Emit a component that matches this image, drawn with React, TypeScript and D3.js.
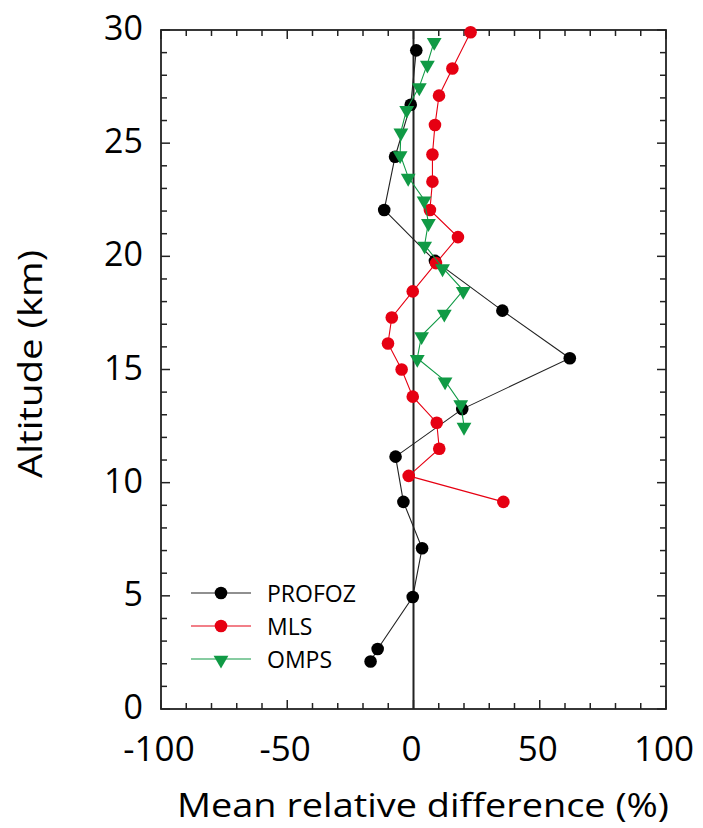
import React, { useRef, useEffect } from 'react';
import * as d3 from 'd3';

// PROFOZ profile
const profozAlt = [29.1, 26.7, 24.4, 22.05, 19.8, 17.6, 15.5, 13.25, 11.15, 9.15, 7.1, 4.95, 2.65, 2.1];
const profozDiff = [1.1, -1.1, -7.3, -11.6, 8.5, 35.2, 61.9, 19.3, -7.1, -4.0, 3.4, -0.3, -14.2, -17.0];

// MLS profile
const mlsAlt = [29.9, 28.3, 27.1, 25.8, 24.5, 23.3, 22.05, 20.85, 19.7, 18.45, 17.3, 16.15, 15.0, 13.8, 12.65, 11.5, 10.3, 9.15];
const mlsDiff = [22.6, 15.4, 10.1, 8.5, 7.5, 7.5, 6.5, 17.6, 8.9, -0.3, -8.6, -10.1, -4.7, -0.3, 9.2, 10.2, -1.9, 35.6];

// OMPS profile
const ompsAlt = [29.5, 28.5, 27.5, 26.5, 25.5, 24.5, 23.5, 22.5, 21.5, 20.5, 19.5, 18.5, 17.5, 16.5, 15.5, 14.5, 13.5, 12.5];
const ompsDiff = [8.2, 5.5, 2.3, -2.7, -5.0, -5.3, -2.1, 4.2, 5.9, 4.4, 11.5, 19.7, 12.2, 3.2, 1.5, 12.5, 18.7, 20.0];

const xTickLabels = [-100, -50, 0, 50, 100];
const yTickLabels = [0, 5, 10, 15, 20, 25, 30];

const FONT = "'Open Sans', sans-serif";

const App = () => {
  const svgRef = useRef<SVGSVGElement>(null);

  useEffect(() => {
    const svg = d3.select(svgRef.current);
    svg.selectAll('*').remove();

    const left = 161, right = 666, top = 30, bottom = 709;
    const x = d3.scaleLinear().domain([-100, 100]).range([left, right]);
    const y = d3.scaleLinear().domain([0, 30]).range([bottom, top]);

    const g = svg.append('g');

    // ticks (inward) on all four sides
    const tk = g.append('g').attr('stroke', '#222').attr('stroke-width', 1.5);
    d3.range(-100, 101, 10).forEach(v => {
      const len = v % 50 === 0 ? 9 : 6;
      tk.append('line').attr('x1', x(v)).attr('x2', x(v)).attr('y1', bottom).attr('y2', bottom - len);
      tk.append('line').attr('x1', x(v)).attr('x2', x(v)).attr('y1', top).attr('y2', top + len);
    });
    d3.range(0, 31, 1).forEach(v => {
      const len = v % 5 === 0 ? 9 : 6;
      tk.append('line').attr('y1', y(v)).attr('y2', y(v)).attr('x1', left).attr('x2', left + len);
      tk.append('line').attr('y1', y(v)).attr('y2', y(v)).attr('x1', right).attr('x2', right - len);
    });

    // frame
    g.append('rect')
      .attr('x', left).attr('y', top)
      .attr('width', right - left).attr('height', bottom - top)
      .attr('fill', 'none').attr('stroke', '#222').attr('stroke-width', 1.8);

    // zero line
    g.append('line')
      .attr('x1', x(0)).attr('x2', x(0)).attr('y1', top).attr('y2', bottom)
      .attr('stroke', '#222').attr('stroke-width', 2);

    // tick labels
    xTickLabels.forEach(v => {
      g.append('text').attr('x', x(v) - 2).attr('y', 761)
        .attr('text-anchor', 'middle').attr('font-family', FONT).attr('font-size', 35)
        .text(v);
    });
    yTickLabels.forEach(v => {
      g.append('text').attr('x', 143).attr('y', y(v) + 10)
        .attr('text-anchor', 'end').attr('font-family', FONT).attr('font-size', 34)
        .text(v);
    });

    // axis titles
    g.append('text').attr('x', 177).attr('y', 817)
      .attr('font-family', FONT).attr('font-size', 32)
      .attr('textLength', 492).attr('lengthAdjust', 'spacingAndGlyphs')
      .text('Mean relative difference (%)');
    g.append('text').attr('transform', `translate(42, 478) rotate(-90)`)
      .attr('font-family', FONT).attr('font-size', 33)
      .attr('textLength', 228).attr('lengthAdjust', 'spacingAndGlyphs')
      .text('Altitude (km)');

    const line = d3.line<[number, number]>().x(d => x(d[0])).y(d => y(d[1]));
    const tri = d3.symbol().type(d3.symbolTriangle).size(95);

    const series = [
      { name: 'PROFOZ', alt: profozAlt, diff: profozDiff, color: '#000', lineColor: '#222', marker: 'circle' },
      { name: 'MLS', alt: mlsAlt, diff: mlsDiff, color: '#e60012', lineColor: '#e60012', marker: 'circle' },
      { name: 'OMPS', alt: ompsAlt, diff: ompsDiff, color: '#109a45', lineColor: '#109a45', marker: 'triangle' },
    ];

    series.forEach(s => {
      const pts: [number, number][] = s.diff.map((d, i) => [d, s.alt[i]]);
      g.append('path').attr('d', line(pts)).attr('fill', 'none')
        .attr('stroke', s.lineColor).attr('stroke-width', 1.1);
      pts.forEach(p => {
        if (s.marker === 'circle') {
          g.append('circle').attr('cx', x(p[0])).attr('cy', y(p[1])).attr('r', 6.3).attr('fill', s.color);
        } else {
          g.append('path').attr('d', tri)
            .attr('transform', `translate(${x(p[0])},${y(p[1]) + 1}) rotate(180)`)
            .attr('fill', s.color);
        }
      });
    });

    // legend
    const lg = g.append('g');
    series.forEach((s, i) => {
      const ly = 593 + i * 33;
      lg.append('line').attr('x1', 191).attr('x2', 251).attr('y1', ly).attr('y2', ly)
        .attr('stroke', s.lineColor).attr('stroke-width', 1.1);
      if (s.marker === 'circle') {
        lg.append('circle').attr('cx', 221).attr('cy', ly).attr('r', 6.3).attr('fill', s.color);
      } else {
        lg.append('path').attr('d', tri)
          .attr('transform', `translate(221,${ly + 1}) rotate(180)`).attr('fill', s.color);
      }
      lg.append('text').attr('x', 267).attr('y', ly + 9)
        .attr('font-family', FONT).attr('font-size', 23).text(s.name);
    });
  }, []);

  return (
    <svg ref={svgRef} width={703} height={828}
      style={{ position: 'absolute', left: 0, top: 0, background: '#fff' }} />
  );
};

export default App;
